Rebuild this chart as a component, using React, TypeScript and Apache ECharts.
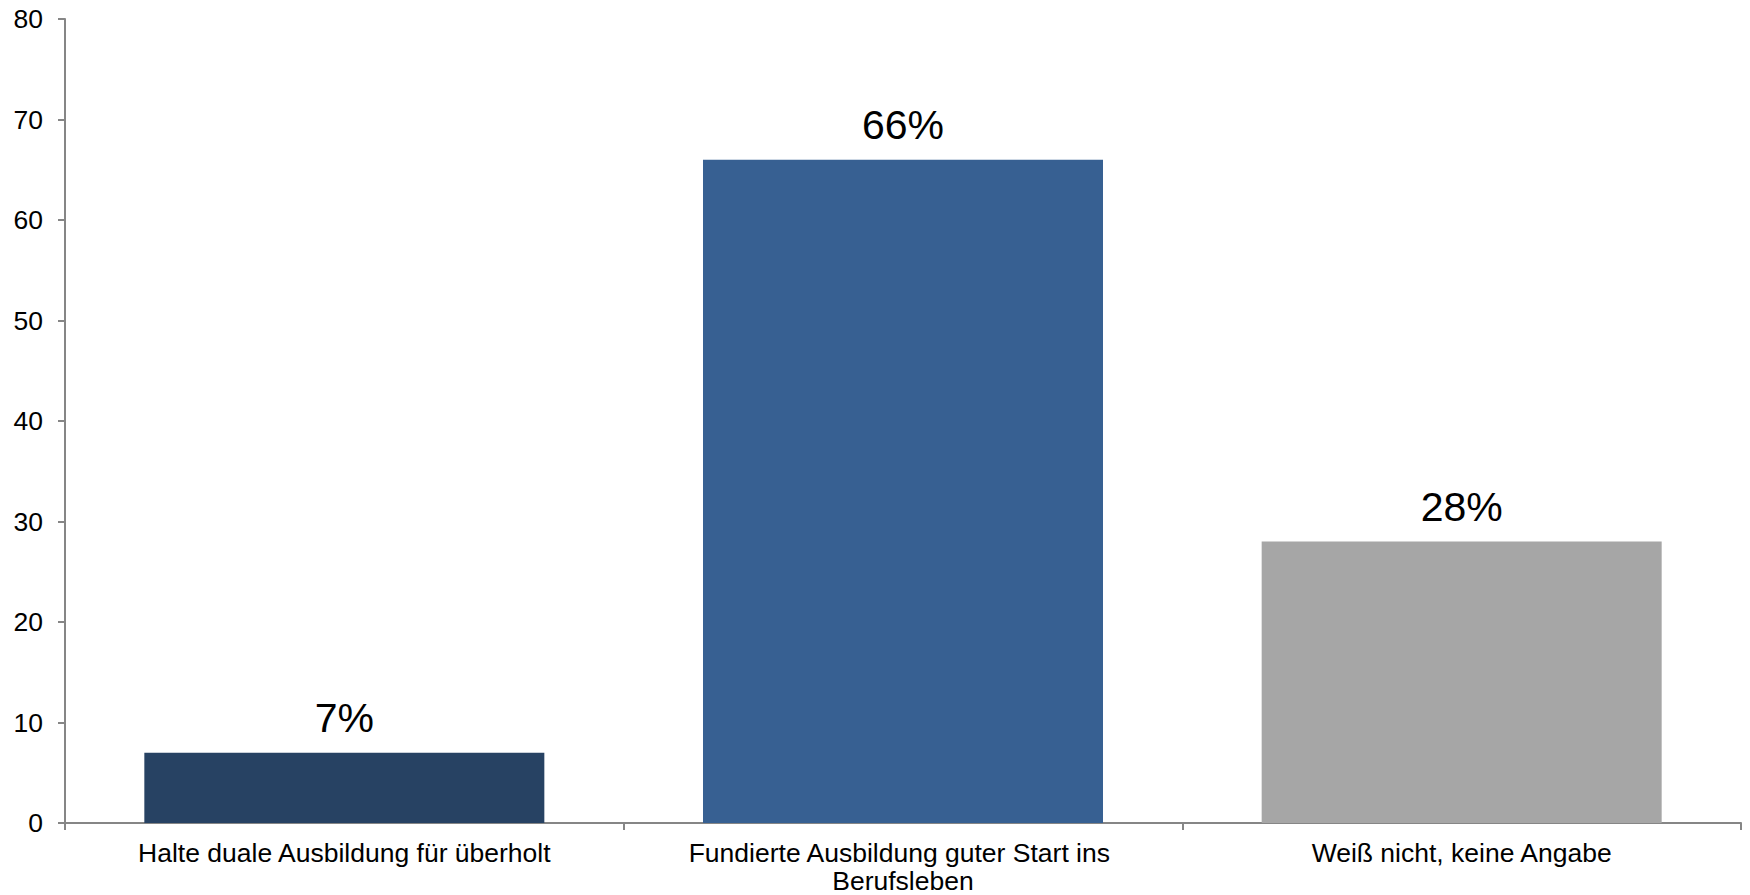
import React, { useEffect, useRef } from "react";
import * as echarts from "echarts";

const categories = [
  "Halte duale Ausbildung für überholt",
  "Fundierte Ausbildung guter Start ins Berufsleben",
  "Weiß nicht, keine Angabe",
];
const values = [7, 66, 28];
const barColors = ["#274263", "#376092", "#A6A6A6"];
const yTicks = { min: 0, max: 80, interval: 10 };

const FONT = "Arial, 'Liberation Sans', sans-serif";

export default function App() {
  const ref = useRef<HTMLDivElement>(null);
  useEffect(() => {
    if (!ref.current) return;
    const chart = echarts.init(ref.current, undefined, { renderer: "svg" });
    chart.setOption({
      animation: false,
      backgroundColor: "#ffffff",
      grid: {
        left: 65,
        right: 9,
        top: 19,
        bottom: 72,
        containLabel: false,
        outerBoundsMode: "none",
      },
      xAxis: {
        type: "category",
        data: categories,
        axisLine: { show: true, lineStyle: { color: "#868686", width: 2 } },
        axisTick: { show: true, length: 7, lineStyle: { color: "#868686", width: 2 } },
        axisLabel: {
          color: "#000",
          fontFamily: FONT,
          fontSize: 26.5,
          lineHeight: 28,
          margin: 16,
          width: 460,
          overflow: "break",
          interval: 0,
        },
        splitLine: { show: false },
      },
      yAxis: {
        type: "value",
        min: yTicks.min,
        max: yTicks.max,
        interval: yTicks.interval,
        axisLine: { show: true, lineStyle: { color: "#868686", width: 2 } },
        axisTick: { show: true, length: 7, lineStyle: { color: "#868686", width: 2 } },
        axisLabel: { color: "#000", fontFamily: FONT, fontSize: 26.5, margin: 22 },
        splitLine: { show: false },
      },
      series: [
        {
          type: "bar",
          data: values.map((v, i) => ({ value: v, itemStyle: { color: barColors[i] } })),
          barCategoryGap: "28.4%",
          label: {
            show: true,
            position: "top",
            distance: 14,
            formatter: "{c}%",
            color: "#000",
            fontFamily: FONT,
            fontSize: 41,
          },
        },
      ],
    });
    return () => chart.dispose();
  }, []);
  return (
    <div
      ref={ref}
      style={{ position: "fixed", left: 0, top: 0, width: 1750, height: 895 }}
    />
  );
}
